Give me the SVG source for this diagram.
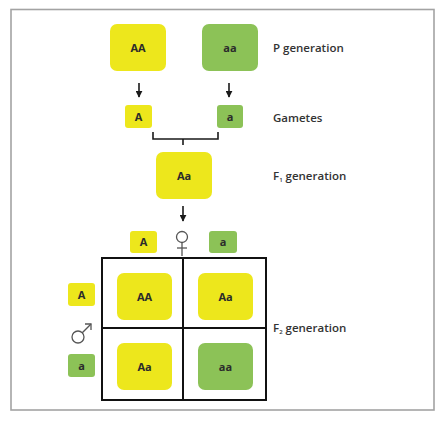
<svg xmlns="http://www.w3.org/2000/svg" width="446" height="422" viewBox="0 0 446 422">
<defs>
<style>
.y{fill:#ede71c}
.g{fill:#8cc257}
.bt{font-family:"Open Sans","Liberation Sans",sans-serif;font-weight:700;font-size:11px;fill:#2b2b2b;text-anchor:middle}
.lb{font-family:"Open Sans","Liberation Sans",sans-serif;font-weight:600;font-size:11.5px;fill:#333}
.ln{stroke:#1a1a1a;stroke-width:1.6;fill:none}
.grid{stroke:#111;stroke-width:2;fill:none}
.sym{stroke:#555;stroke-width:1.3;fill:none}
</style>
<marker id="ah" viewBox="0 0 10 10" refX="9" refY="5" markerWidth="7" markerHeight="7" orient="auto" markerUnits="userSpaceOnUse">
<path d="M0,0 L10,5 L0,10 Z" fill="#1a1a1a"/>
</marker>
</defs>
<rect width="446" height="422" fill="#fff"/>
<rect x="11" y="9.5" width="423" height="400.5" fill="none" stroke="#a3a3a3" stroke-width="1.6"/>

<g id="P-AA"><rect class="y" x="110" y="24" width="56" height="47" rx="7"/><text class="bt" x="138" y="51.5">AA</text></g>
<g id="P-aa"><rect class="g" x="202" y="24" width="56" height="47" rx="7"/><text class="bt" x="230" y="51.5">aa</text></g>
<g id="gam-A"><rect class="y" x="125" y="105" width="27" height="23" rx="3"/><text class="bt" x="138.5" y="120.5">A</text></g>
<g id="gam-a"><rect class="g" x="217" y="105" width="26" height="23" rx="3"/><text class="bt" x="230" y="120.5">a</text></g>
<g id="F1"><rect class="y" x="156" y="152" width="56" height="47" rx="7"/><text class="bt" x="184" y="179.5">Aa</text></g>

<g id="female-A"><rect class="y" x="130" y="231" width="27" height="22" rx="3"/><text class="bt" x="143.5" y="246">A</text></g>
<g id="female-a"><rect class="g" x="209" y="231" width="28" height="22" rx="3"/><text class="bt" x="223" y="246">a</text></g>
<g id="male-A"><rect class="y" x="68" y="283" width="27" height="23" rx="3"/><text class="bt" x="81.5" y="298.5">A</text></g>
<g id="male-a"><rect class="g" x="68" y="354" width="27" height="23" rx="3"/><text class="bt" x="81.5" y="369.5">a</text></g>

<g id="female-symbol"><circle class="sym" cx="182" cy="237" r="5.5"/><line class="sym" x1="182" y1="242.5" x2="182" y2="256"/><line class="sym" x1="177" y1="248" x2="187" y2="248"/></g>
<g id="male-symbol"><circle class="sym" cx="78" cy="337" r="6"/><line class="sym" x1="82.3" y1="332.7" x2="91" y2="324"/><polyline class="sym" points="85,324 91,324 91,330"/></g>

<g id="punnett">
<rect class="grid" x="102" y="258" width="164" height="142"/>
<line class="grid" x1="183" y1="258" x2="183" y2="400"/>
<line class="grid" x1="102" y1="328" x2="266" y2="328"/>
</g>
<g id="cell-AA"><rect class="y" x="117" y="273" width="55" height="47" rx="7"/><text class="bt" x="144.5" y="300.5">AA</text></g>
<g id="cell-Aa1"><rect class="y" x="198" y="273" width="55" height="47" rx="7"/><text class="bt" x="225.5" y="300.5">Aa</text></g>
<g id="cell-Aa2"><rect class="y" x="117" y="343" width="55" height="47" rx="7"/><text class="bt" x="144.5" y="370.5">Aa</text></g>
<g id="cell-aa"><rect class="g" x="198" y="343" width="55" height="47" rx="7"/><text class="bt" x="225.5" y="370.5">aa</text></g>

<g id="labels">
<text class="lb" x="273" y="52">P generation</text>
<text class="lb" x="273" y="122">Gametes</text>
<text class="lb" x="273" y="180">F<tspan font-size="6" dy="2">1</tspan><tspan dy="-2"> generation</tspan></text>
<text class="lb" x="273" y="332">F<tspan font-size="6" dy="2">2</tspan><tspan dy="-2"> generation</tspan></text>
</g>

<g id="connectors">
<line class="ln" x1="139" y1="83" x2="139" y2="97" marker-end="url(#ah)"/>
<line class="ln" x1="229" y1="83" x2="229" y2="97" marker-end="url(#ah)"/>
<polyline class="ln" points="153,132 153,139 218,139 218,132"/>
<line class="ln" x1="183" y1="139" x2="183" y2="145"/>
<line class="ln" x1="183" y1="206" x2="183" y2="221" marker-end="url(#ah)"/>
</g>
</svg>
